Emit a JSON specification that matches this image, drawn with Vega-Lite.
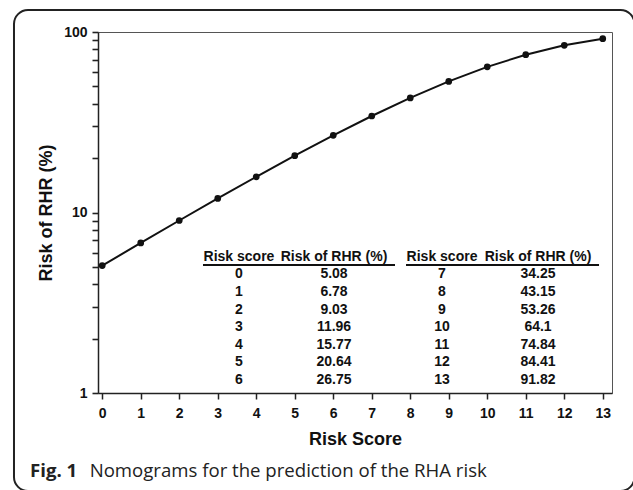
{
  "$schema": "https://vega.github.io/schema/vega-lite/v6.json",
  "width": 514,
  "height": 361,
  "autosize": {"type": "none"},
  "padding": {"left": 98, "top": 32, "right": 21, "bottom": 97},
  "background": "white",
  "config": {
    "view": {"stroke": "#555", "strokeWidth": 1},
    "font": "Liberation Sans"
  },
  "datasets": {
    "risk": [
      {"score": 0, "risk": 5.08},
      {"score": 1, "risk": 6.78},
      {"score": 2, "risk": 9.03},
      {"score": 3, "risk": 11.96},
      {"score": 4, "risk": 15.77},
      {"score": 5, "risk": 20.64},
      {"score": 6, "risk": 26.75},
      {"score": 7, "risk": 34.25},
      {"score": 8, "risk": 43.15},
      {"score": 9, "risk": 53.26},
      {"score": 10, "risk": 64.1},
      {"score": 11, "risk": 74.84},
      {"score": 12, "risk": 84.41},
      {"score": 13, "risk": 91.82}
    ],
    "headers": [
      {"label": "Risk score", "col": 0},
      {"label": "Risk of RHR (%)", "col": 1},
      {"label": "Risk score", "col": 2},
      {"label": "Risk of RHR (%)", "col": 3}
    ],
    "one": [{}]
  },
  "layer": [
    {
      "data": {"name": "risk"},
      "mark": {"type": "line", "color": "#111", "strokeWidth": 2},
      "encoding": {
        "x": {
          "field": "score", "type": "quantitative", "title": "Risk Score",
          "scale": {"domain": [-0.11, 13.24], "nice": false, "zero": false},
          "axis": {"values": [0, 1, 2, 3, 4, 5, 6, 7, 8, 9, 10, 11, 12, 13], "tickCount": 40, "format": "d", "grid": false, "domainColor": "#222", "domainWidth": 1.5, "tickColor": "#222", "tickWidth": 1.5, "tickSize": 6, "labelFont": "Liberation Sans", "labelFontWeight": "bold", "labelFontSize": 14, "labelColor": "#111", "labelPadding": 7, "titleFont": "Liberation Sans", "titleFontWeight": "bold", "titleFontSize": 18, "titleColor": "#111", "titlePadding": 10}
        },
        "y": {
          "field": "risk", "type": "quantitative", "title": "Risk of RHR (%)",
          "scale": {"type": "log", "domain": [1, 100], "nice": false},
          "axis": {"values": [1, 2, 3, 4, 5, 6, 7, 8, 9, 10, 20, 30, 40, 50, 60, 70, 80, 90, 100], "tickCount": 40, "format": "d", "labelOpacity": {"condition": {"test": "datum.value == 1 || datum.value == 10 || datum.value == 100", "value": 1}, "value": 0}, "labelOverlap": false, "grid": false, "domainColor": "#222", "domainWidth": 1.5, "tickColor": "#222", "tickSize": 6, "tickWidth": 1.6, "labelFont": "Liberation Sans", "labelFontWeight": "bold", "labelFontSize": 14, "labelColor": "#111", "labelPadding": 5, "titleFont": "Liberation Sans", "titleFontWeight": "bold", "titleFontSize": 18, "titleColor": "#111", "titlePadding": 8}
        }
      }
    },
    {
      "data": {"name": "risk"},
      "mark": {"type": "point", "filled": true, "size": 45, "color": "#111", "opacity": 1},
      "encoding": {
        "x": {"field": "score", "type": "quantitative", "title": "Risk Score",
          "axis": {"values": [0, 1, 2, 3, 4, 5, 6, 7, 8, 9, 10, 11, 12, 13], "tickCount": 40, "format": "d", "grid": false, "domainColor": "#222", "domainWidth": 1.5, "tickColor": "#222", "tickWidth": 1.5, "tickSize": 6, "labelFont": "Liberation Sans", "labelFontWeight": "bold", "labelFontSize": 14, "labelColor": "#111", "labelPadding": 7, "titleFont": "Liberation Sans", "titleFontWeight": "bold", "titleFontSize": 18, "titleColor": "#111", "titlePadding": 10}},
        "y": {"field": "risk", "type": "quantitative", "title": "Risk of RHR (%)",
          "axis": {"values": [1, 2, 3, 4, 5, 6, 7, 8, 9, 10, 20, 30, 40, 50, 60, 70, 80, 90, 100], "tickCount": 40, "format": "d", "labelOpacity": {"condition": {"test": "datum.value == 1 || datum.value == 10 || datum.value == 100", "value": 1}, "value": 0}, "labelOverlap": false, "grid": false, "domainColor": "#222", "domainWidth": 1.5, "tickColor": "#222", "tickSize": 6, "tickWidth": 1.6, "labelFont": "Liberation Sans", "labelFontWeight": "bold", "labelFontSize": 14, "labelColor": "#111", "labelPadding": 5, "titleFont": "Liberation Sans", "titleFontWeight": "bold", "titleFontSize": 18, "titleColor": "#111", "titlePadding": 8}}
      }
    },
    {
      "data": {"name": "one"},
      "mark": {"type": "rect", "fill": "transparent", "stroke": "#222", "strokeWidth": 2, "cornerRadius": 14},
      "encoding": {
        "x": {"datum": -2.292, "type": "quantitative", "title": "Risk Score",
          "axis": {"values": [0, 1, 2, 3, 4, 5, 6, 7, 8, 9, 10, 11, 12, 13], "tickCount": 40, "format": "d", "grid": false, "domainColor": "#222", "domainWidth": 1.5, "tickColor": "#222", "tickWidth": 1.5, "tickSize": 6, "labelFont": "Liberation Sans", "labelFontWeight": "bold", "labelFontSize": 14, "labelColor": "#111", "labelPadding": 7, "titleFont": "Liberation Sans", "titleFontWeight": "bold", "titleFontSize": 18, "titleColor": "#111", "titlePadding": 10}},
        "x2": {"datum": 13.825},
        "y": {"datum": 132.4, "type": "quantitative", "title": "Risk of RHR (%)",
          "axis": {"values": [1, 2, 3, 4, 5, 6, 7, 8, 9, 10, 20, 30, 40, 50, 60, 70, 80, 90, 100], "tickCount": 40, "format": "d", "labelOpacity": {"condition": {"test": "datum.value == 1 || datum.value == 10 || datum.value == 100", "value": 1}, "value": 0}, "labelOverlap": false, "grid": false, "domainColor": "#222", "domainWidth": 1.5, "tickColor": "#222", "tickSize": 6, "tickWidth": 1.6, "labelFont": "Liberation Sans", "labelFontWeight": "bold", "labelFontSize": 14, "labelColor": "#111", "labelPadding": 5, "titleFont": "Liberation Sans", "titleFontWeight": "bold", "titleFontSize": 18, "titleColor": "#111", "titlePadding": 8}},
        "y2": {"datum": 0.2865}
      }
    },
    {
      "data": {"name": "one"},
      "mark": {"type": "text", "text": "Fig. 1", "font": "Open Sans", "fontWeight": "bold", "fontSize": 18.6, "align": "left", "baseline": "alphabetic", "color": "#222"},
      "encoding": {
        "x": {"datum": -1.876, "type": "quantitative", "title": "Risk Score",
          "axis": {"values": [0, 1, 2, 3, 4, 5, 6, 7, 8, 9, 10, 11, 12, 13], "tickCount": 40, "format": "d", "grid": false, "domainColor": "#222", "domainWidth": 1.5, "tickColor": "#222", "tickWidth": 1.5, "tickSize": 6, "labelFont": "Liberation Sans", "labelFontWeight": "bold", "labelFontSize": 14, "labelColor": "#111", "labelPadding": 7, "titleFont": "Liberation Sans", "titleFontWeight": "bold", "titleFontSize": 18, "titleColor": "#111", "titlePadding": 10}},
        "y": {"datum": 0.3424, "type": "quantitative", "title": "Risk of RHR (%)",
          "axis": {"values": [1, 2, 3, 4, 5, 6, 7, 8, 9, 10, 20, 30, 40, 50, 60, 70, 80, 90, 100], "tickCount": 40, "format": "d", "labelOpacity": {"condition": {"test": "datum.value == 1 || datum.value == 10 || datum.value == 100", "value": 1}, "value": 0}, "labelOverlap": false, "grid": false, "domainColor": "#222", "domainWidth": 1.5, "tickColor": "#222", "tickSize": 6, "tickWidth": 1.6, "labelFont": "Liberation Sans", "labelFontWeight": "bold", "labelFontSize": 14, "labelColor": "#111", "labelPadding": 5, "titleFont": "Liberation Sans", "titleFontWeight": "bold", "titleFontSize": 18, "titleColor": "#111", "titlePadding": 8}}
      }
    },
    {
      "data": {"name": "one"},
      "mark": {"type": "text", "text": "Nomograms for the prediction of the RHA risk", "font": "Open Sans", "fontWeight": "normal", "fontSize": 18.6, "align": "left", "baseline": "alphabetic", "color": "#222"},
      "encoding": {
        "x": {"datum": -0.326, "type": "quantitative", "title": "Risk Score",
          "axis": {"values": [0, 1, 2, 3, 4, 5, 6, 7, 8, 9, 10, 11, 12, 13], "tickCount": 40, "format": "d", "grid": false, "domainColor": "#222", "domainWidth": 1.5, "tickColor": "#222", "tickWidth": 1.5, "tickSize": 6, "labelFont": "Liberation Sans", "labelFontWeight": "bold", "labelFontSize": 14, "labelColor": "#111", "labelPadding": 7, "titleFont": "Liberation Sans", "titleFontWeight": "bold", "titleFontSize": 18, "titleColor": "#111", "titlePadding": 10}},
        "y": {"datum": 0.3424, "type": "quantitative", "title": "Risk of RHR (%)",
          "axis": {"values": [1, 2, 3, 4, 5, 6, 7, 8, 9, 10, 20, 30, 40, 50, 60, 70, 80, 90, 100], "tickCount": 40, "format": "d", "labelOpacity": {"condition": {"test": "datum.value == 1 || datum.value == 10 || datum.value == 100", "value": 1}, "value": 0}, "labelOverlap": false, "grid": false, "domainColor": "#222", "domainWidth": 1.5, "tickColor": "#222", "tickSize": 6, "tickWidth": 1.6, "labelFont": "Liberation Sans", "labelFontWeight": "bold", "labelFontSize": 14, "labelColor": "#111", "labelPadding": 5, "titleFont": "Liberation Sans", "titleFontWeight": "bold", "titleFontSize": 18, "titleColor": "#111", "titlePadding": 8}}
      }
    },
    {
      "data": {"name": "headers"},
      "transform": [
        {"calculate": "[3.552, 6.02, 8.825, 11.319][datum.col]", "as": "hx"},
        {"calculate": "pow(10, 136 / 180.5)", "as": "hy"}
      ],
      "mark": {"type": "text", "font": "Liberation Sans", "fontWeight": "bold", "fontSize": 14, "align": "center", "baseline": "middle", "color": "#111"},
      "encoding": {
        "x": {"field": "hx", "type": "quantitative", "title": "Risk Score",
          "axis": {"values": [0, 1, 2, 3, 4, 5, 6, 7, 8, 9, 10, 11, 12, 13], "tickCount": 40, "format": "d", "grid": false, "domainColor": "#222", "domainWidth": 1.5, "tickColor": "#222", "tickWidth": 1.5, "tickSize": 6, "labelFont": "Liberation Sans", "labelFontWeight": "bold", "labelFontSize": 14, "labelColor": "#111", "labelPadding": 7, "titleFont": "Liberation Sans", "titleFontWeight": "bold", "titleFontSize": 18, "titleColor": "#111", "titlePadding": 10}},
        "y": {"field": "hy", "type": "quantitative", "title": "Risk of RHR (%)",
          "axis": {"values": [1, 2, 3, 4, 5, 6, 7, 8, 9, 10, 20, 30, 40, 50, 60, 70, 80, 90, 100], "tickCount": 40, "format": "d", "labelOpacity": {"condition": {"test": "datum.value == 1 || datum.value == 10 || datum.value == 100", "value": 1}, "value": 0}, "labelOverlap": false, "grid": false, "domainColor": "#222", "domainWidth": 1.5, "tickColor": "#222", "tickSize": 6, "tickWidth": 1.6, "labelFont": "Liberation Sans", "labelFontWeight": "bold", "labelFontSize": 14, "labelColor": "#111", "labelPadding": 5, "titleFont": "Liberation Sans", "titleFontWeight": "bold", "titleFontSize": 18, "titleColor": "#111", "titlePadding": 8}},
        "text": {"field": "label", "type": "nominal"}
      }
    },
    {
      "data": {"name": "one"},
      "mark": {"type": "rule", "color": "#111", "strokeWidth": 2},
      "encoding": {
        "x": {"datum": 2.617, "type": "quantitative", "title": "Risk Score",
          "axis": {"values": [0, 1, 2, 3, 4, 5, 6, 7, 8, 9, 10, 11, 12, 13], "tickCount": 40, "format": "d", "grid": false, "domainColor": "#222", "domainWidth": 1.5, "tickColor": "#222", "tickWidth": 1.5, "tickSize": 6, "labelFont": "Liberation Sans", "labelFontWeight": "bold", "labelFontSize": 14, "labelColor": "#111", "labelPadding": 7, "titleFont": "Liberation Sans", "titleFontWeight": "bold", "titleFontSize": 18, "titleColor": "#111", "titlePadding": 10}},
        "x2": {"datum": 7.604},
        "y": {"datum": 5.1188, "type": "quantitative", "title": "Risk of RHR (%)",
          "axis": {"values": [1, 2, 3, 4, 5, 6, 7, 8, 9, 10, 20, 30, 40, 50, 60, 70, 80, 90, 100], "tickCount": 40, "format": "d", "labelOpacity": {"condition": {"test": "datum.value == 1 || datum.value == 10 || datum.value == 100", "value": 1}, "value": 0}, "labelOverlap": false, "grid": false, "domainColor": "#222", "domainWidth": 1.5, "tickColor": "#222", "tickSize": 6, "tickWidth": 1.6, "labelFont": "Liberation Sans", "labelFontWeight": "bold", "labelFontSize": 14, "labelColor": "#111", "labelPadding": 5, "titleFont": "Liberation Sans", "titleFontWeight": "bold", "titleFontSize": 18, "titleColor": "#111", "titlePadding": 8}}
      }
    },
    {
      "data": {"name": "one"},
      "mark": {"type": "rule", "color": "#111", "strokeWidth": 2},
      "encoding": {
        "x": {"datum": 7.89, "type": "quantitative", "title": "Risk Score",
          "axis": {"values": [0, 1, 2, 3, 4, 5, 6, 7, 8, 9, 10, 11, 12, 13], "tickCount": 40, "format": "d", "grid": false, "domainColor": "#222", "domainWidth": 1.5, "tickColor": "#222", "tickWidth": 1.5, "tickSize": 6, "labelFont": "Liberation Sans", "labelFontWeight": "bold", "labelFontSize": 14, "labelColor": "#111", "labelPadding": 7, "titleFont": "Liberation Sans", "titleFontWeight": "bold", "titleFontSize": 18, "titleColor": "#111", "titlePadding": 10}},
        "x2": {"datum": 12.903},
        "y": {"datum": 5.1188, "type": "quantitative", "title": "Risk of RHR (%)",
          "axis": {"values": [1, 2, 3, 4, 5, 6, 7, 8, 9, 10, 20, 30, 40, 50, 60, 70, 80, 90, 100], "tickCount": 40, "format": "d", "labelOpacity": {"condition": {"test": "datum.value == 1 || datum.value == 10 || datum.value == 100", "value": 1}, "value": 0}, "labelOverlap": false, "grid": false, "domainColor": "#222", "domainWidth": 1.5, "tickColor": "#222", "tickSize": 6, "tickWidth": 1.6, "labelFont": "Liberation Sans", "labelFontWeight": "bold", "labelFontSize": 14, "labelColor": "#111", "labelPadding": 5, "titleFont": "Liberation Sans", "titleFontWeight": "bold", "titleFontSize": 18, "titleColor": "#111", "titlePadding": 8}}
      }
    },
    {
      "data": {"name": "risk"},
      "transform": [
        {"calculate": "datum.score < 7 ? 3.552 : 8.825", "as": "tx"},
        {"calculate": "pow(10, (118.7 - 17.6 * (datum.score % 7)) / 180.5)", "as": "ty"}
      ],
      "mark": {"type": "text", "font": "Liberation Sans", "fontWeight": "bold", "fontSize": 14, "align": "center", "baseline": "middle", "color": "#111"},
      "encoding": {
        "x": {"field": "tx", "type": "quantitative", "title": "Risk Score",
          "axis": {"values": [0, 1, 2, 3, 4, 5, 6, 7, 8, 9, 10, 11, 12, 13], "tickCount": 40, "format": "d", "grid": false, "domainColor": "#222", "domainWidth": 1.5, "tickColor": "#222", "tickWidth": 1.5, "tickSize": 6, "labelFont": "Liberation Sans", "labelFontWeight": "bold", "labelFontSize": 14, "labelColor": "#111", "labelPadding": 7, "titleFont": "Liberation Sans", "titleFontWeight": "bold", "titleFontSize": 18, "titleColor": "#111", "titlePadding": 10}},
        "y": {"field": "ty", "type": "quantitative", "title": "Risk of RHR (%)",
          "axis": {"values": [1, 2, 3, 4, 5, 6, 7, 8, 9, 10, 20, 30, 40, 50, 60, 70, 80, 90, 100], "tickCount": 40, "format": "d", "labelOpacity": {"condition": {"test": "datum.value == 1 || datum.value == 10 || datum.value == 100", "value": 1}, "value": 0}, "labelOverlap": false, "grid": false, "domainColor": "#222", "domainWidth": 1.5, "tickColor": "#222", "tickSize": 6, "tickWidth": 1.6, "labelFont": "Liberation Sans", "labelFontWeight": "bold", "labelFontSize": 14, "labelColor": "#111", "labelPadding": 5, "titleFont": "Liberation Sans", "titleFontWeight": "bold", "titleFontSize": 18, "titleColor": "#111", "titlePadding": 8}},
        "text": {"field": "score", "type": "nominal"}
      }
    },
    {
      "data": {"name": "risk"},
      "transform": [
        {"calculate": "datum.score < 7 ? 6.02 : 11.319", "as": "vx"},
        {"calculate": "pow(10, (118.7 - 17.6 * (datum.score % 7)) / 180.5)", "as": "ty"}
      ],
      "mark": {"type": "text", "font": "Liberation Sans", "fontWeight": "bold", "fontSize": 14, "align": "center", "baseline": "middle", "color": "#111"},
      "encoding": {
        "x": {"field": "vx", "type": "quantitative", "title": "Risk Score",
          "axis": {"values": [0, 1, 2, 3, 4, 5, 6, 7, 8, 9, 10, 11, 12, 13], "tickCount": 40, "format": "d", "grid": false, "domainColor": "#222", "domainWidth": 1.5, "tickColor": "#222", "tickWidth": 1.5, "tickSize": 6, "labelFont": "Liberation Sans", "labelFontWeight": "bold", "labelFontSize": 14, "labelColor": "#111", "labelPadding": 7, "titleFont": "Liberation Sans", "titleFontWeight": "bold", "titleFontSize": 18, "titleColor": "#111", "titlePadding": 10}},
        "y": {"field": "ty", "type": "quantitative", "title": "Risk of RHR (%)",
          "axis": {"values": [1, 2, 3, 4, 5, 6, 7, 8, 9, 10, 20, 30, 40, 50, 60, 70, 80, 90, 100], "tickCount": 40, "format": "d", "labelOpacity": {"condition": {"test": "datum.value == 1 || datum.value == 10 || datum.value == 100", "value": 1}, "value": 0}, "labelOverlap": false, "grid": false, "domainColor": "#222", "domainWidth": 1.5, "tickColor": "#222", "tickSize": 6, "tickWidth": 1.6, "labelFont": "Liberation Sans", "labelFontWeight": "bold", "labelFontSize": 14, "labelColor": "#111", "labelPadding": 5, "titleFont": "Liberation Sans", "titleFontWeight": "bold", "titleFontSize": 18, "titleColor": "#111", "titlePadding": 8}},
        "text": {"field": "risk", "type": "nominal"}
      }
    }
  ]
}
